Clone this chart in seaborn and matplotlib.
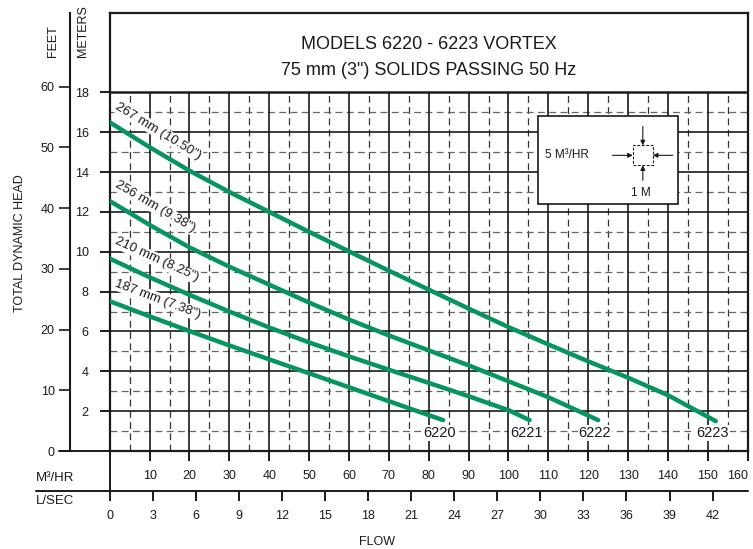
import numpy as np
import pandas as pd
import matplotlib
matplotlib.use("Agg")
import matplotlib.pyplot as plt
from matplotlib.lines import Line2D
from matplotlib.patches import Rectangle
import seaborn as sns

# ===== data (flow in M3/HR, head in metres) =====
MODELS = ["6220", "6221", "6222", "6223"]
IMPELLERS = ['187 mm (7.38")', '210 mm (8.25")', '256 mm (9.38")', '267 mm (10.50")']

FLOW_6220 = [0, 10, 20, 30, 40, 50, 60, 70, 83.6]
HEAD_6220 = [7.52, 6.76, 6.02, 5.3, 4.6, 3.9, 3.2, 2.5, 1.55]
FLOW_6221 = [0, 10, 20, 30, 40, 50, 60, 70, 80, 90, 100, 105.3]
HEAD_6221 = [9.66, 8.72, 7.84, 7.0, 6.2, 5.45, 4.75, 4.08, 3.42, 2.75, 2.05, 1.55]
FLOW_6222 = [0, 10, 20, 30, 40, 50, 60, 70, 80, 90, 100, 110, 122.5]
HEAD_6222 = [12.55, 11.35, 10.22, 9.25, 8.35, 7.45, 6.6, 5.8, 5.05, 4.3, 3.5, 2.7, 1.55]
FLOW_6223 = [0, 10, 20, 30, 40, 50, 60, 70, 80, 90, 100, 110, 120, 130, 140, 152]
HEAD_6223 = [16.5, 15.25, 14.07, 13.0, 12.0, 11.0, 10.02, 9.05, 8.1, 7.15, 6.22, 5.35, 4.5, 3.68, 2.8, 1.5]

M3HR_TICKS = list(range(10, 161, 10))
LSEC_TICKS = list(range(0, 43, 3))
METER_TICKS = list(range(2, 19, 2))
FEET_TICKS = list(range(0, 61, 10))

TITLE_1 = "MODELS 6220 - 6223 VORTEX"
TITLE_2 = '75 mm (3") SOLIDS PASSING 50 Hz'

GREEN = "#06955f"
INK = "#1a1a1a"

sns.set_theme(style="white")
plt.rcParams["font.family"] = ["Liberation Sans", "DejaVu Sans"]
plt.rcParams["text.color"] = INK
plt.rcParams["xtick.color"] = INK
plt.rcParams["ytick.color"] = INK
plt.rcParams["xtick.labelcolor"] = INK
plt.rcParams["ytick.labelcolor"] = INK

W, H = 753, 549
fig = plt.figure(figsize=(W / 100, H / 100), dpi=100)
ax = fig.add_axes([109.7 / W, 98 / H, 638 / W, 438.3 / H])
ax.set_xlim(0, 160)
ax.set_ylim(0, 22)

# ---- grid (only inside the chart, below the title band) ----
ax.vlines(np.arange(5, 160, 10), 0, 18, colors="#333333", lw=0.9,
          linestyles=(0, (5.5, 3.5)), zorder=1)
ax.hlines(np.arange(1, 18, 2), 0, 160, colors="#666666", lw=0.9,
          linestyles=(0, (5.5, 3.5)), zorder=1)
ax.vlines(np.arange(10, 160, 10), 0, 18, colors=INK, lw=1.2, zorder=2)
ax.hlines(np.arange(2, 17, 2), 0, 160, colors=INK, lw=1.2, zorder=2)
ax.hlines(18, 0, 160, colors=INK, lw=1.8, zorder=3)

for s in ax.spines.values():
    s.set_visible(True)
    s.set_color(INK)
    s.set_linewidth(1.6)

# ---- curves ----
curves = pd.concat([
    pd.DataFrame({"flow": FLOW_6220, "head": HEAD_6220, "model": "6220"}),
    pd.DataFrame({"flow": FLOW_6221, "head": HEAD_6221, "model": "6221"}),
    pd.DataFrame({"flow": FLOW_6222, "head": HEAD_6222, "model": "6222"}),
    pd.DataFrame({"flow": FLOW_6223, "head": HEAD_6223, "model": "6223"}),
], ignore_index=True)

sns.lineplot(data=curves, x="flow", y="head", hue="model", hue_order=MODELS,
             palette=[GREEN] * 4, lw=3.2, legend=False, estimator=None,
             sort=False, ax=ax, zorder=5, solid_capstyle="round",
             solid_joinstyle="round")
ax.set_xlabel("")
ax.set_ylabel("")

# ---- impeller labels along the curves, model labels at curve ends ----
for m, imp in zip(MODELS, IMPELLERS):
    sub = curves[curves["model"] == m]
    fx = sub["flow"].to_numpy()
    hy = sub["head"].to_numpy()
    p0 = ax.transData.transform((fx[0], hy[0]))
    p1 = ax.transData.transform((fx[2], hy[2]))
    ang = np.degrees(np.arctan2(p1[1] - p0[1], p1[0] - p0[0]))
    ax.text(0.8, np.interp(0.8, fx, hy) + 0.68, imp, rotation=ang,
            rotation_mode="anchor", ha="left", va="bottom", fontsize=9.5,
            color=INK, zorder=4,
            bbox=dict(fc="white", ec="none", pad=0.6))
    ax.text(fx[-1] - 0.8, 0.9, m, ha="center", va="center", fontsize=10.5,
            color=INK, zorder=4,
            bbox=dict(fc="white", ec="none", pad=0.8))

# ---- title band ----
ax.text(80, 20.2, TITLE_1, ha="center", va="baseline", fontsize=13)
ax.text(80, 18.85, TITLE_2, ha="center", va="baseline", fontsize=13)

# ---- scale key box ----
ax.add_patch(Rectangle((107.5, 12.42), 35, 4.42, fc="white", ec=INK,
                       lw=1.2, zorder=6))
ax.add_patch(Rectangle((131.2, 14.34), 5, 1, fc="none", ec=INK,
                       lw=0.8, ls=(0, (2.5, 1.5)), zorder=7))
arrow = dict(arrowstyle="-|>", lw=0.8, color=INK, mutation_scale=7,
             shrinkA=0, shrinkB=0)
ax.annotate("", xy=(131.2, 14.84), xytext=(126.1, 14.84), arrowprops=arrow, zorder=7)
ax.annotate("", xy=(136.2, 14.84), xytext=(141.2, 14.84), arrowprops=arrow, zorder=7)
ax.annotate("", xy=(133.7, 15.34), xytext=(133.7, 16.29), arrowprops=arrow, zorder=7)
ax.annotate("", xy=(133.7, 14.34), xytext=(133.7, 13.58), arrowprops=arrow, zorder=7)
ax.text(109.1, 14.84, "5 M³/HR", ha="left", va="center", fontsize=8.5, zorder=7)
ax.text(133.2, 12.95, "1 M", ha="center", va="center", fontsize=8.5, zorder=7)

# ---- metres axis (main) and M3/HR axis ----
ax.set_yticks(METER_TICKS)
ax.set_xticks(M3HR_TICKS)
ax.tick_params(axis="y", left=True, direction="out", length=7.2, width=1.4,
               pad=8, labelsize=9)
ax.tick_params(axis="x", bottom=True, direction="out", length=7.2, width=1.4,
               pad=6.5, labelsize=9)
ax.get_xticklabels()[-1].set_horizontalalignment("right")

# ---- feet axis ----
sec_y = ax.secondary_yaxis(-39.7 / 638, functions=(lambda m: m / 0.3048,
                                                  lambda f: f * 0.3048))
sec_y.set_yticks(FEET_TICKS)
sec_y.tick_params(direction="out", length=8, width=1.2, pad=3, labelsize=9)
sec_y.spines["left"].set_linewidth(1.5)
sec_y.spines["left"].set_color(INK)

# ---- L/SEC axis ----
lsec_pos = -40 / 438.3
sec_x = ax.secondary_xaxis(lsec_pos, functions=(lambda q: q / 3.6,
                                                lambda q: q * 3.6))
sec_x.set_xticks(LSEC_TICKS)
sec_x.tick_params(direction="out", length=7.2, width=1.4, pad=6.5, labelsize=9)
sec_x.spines["bottom"].set_visible(False)

# connecting rules outside the chart
ax.add_line(Line2D([-73.7 / 638, 1], [lsec_pos, lsec_pos], transform=ax.transAxes,
                   color=INK, lw=1.4, clip_on=False))
ax.add_line(Line2D([0, 0], [0, lsec_pos], transform=ax.transAxes,
                   color=INK, lw=1.4, clip_on=False))
ax.add_line(Line2D([-50.7 / 638, 0], [0, 0], transform=ax.transAxes,
                   color=INK, lw=1.4, clip_on=False))

# ---- axis titles ----
fig.text(20 / W, 1 - 243 / H, "TOTAL DYNAMIC HEAD", rotation=90,
         ha="center", va="center", fontsize=9)
fig.text(53 / W, 1 - 57 / H, "FEET", rotation=90, ha="center", va="bottom", fontsize=9)
fig.text(83 / W, 1 - 57 / H, "METERS", rotation=90, ha="center", va="bottom", fontsize=9)
fig.text(36 / W, 1 - 478 / H, "M³/HR", ha="left", va="center", fontsize=9.5)
fig.text(36 / W, 1 - 501 / H, "L/SEC", ha="left", va="center", fontsize=9.5)
fig.text(377 / W, 1 - 541.7 / H, "FLOW", ha="center", va="center", fontsize=9)

fig.savefig("out.png", dpi=100, facecolor="white")
plt.close(fig)
